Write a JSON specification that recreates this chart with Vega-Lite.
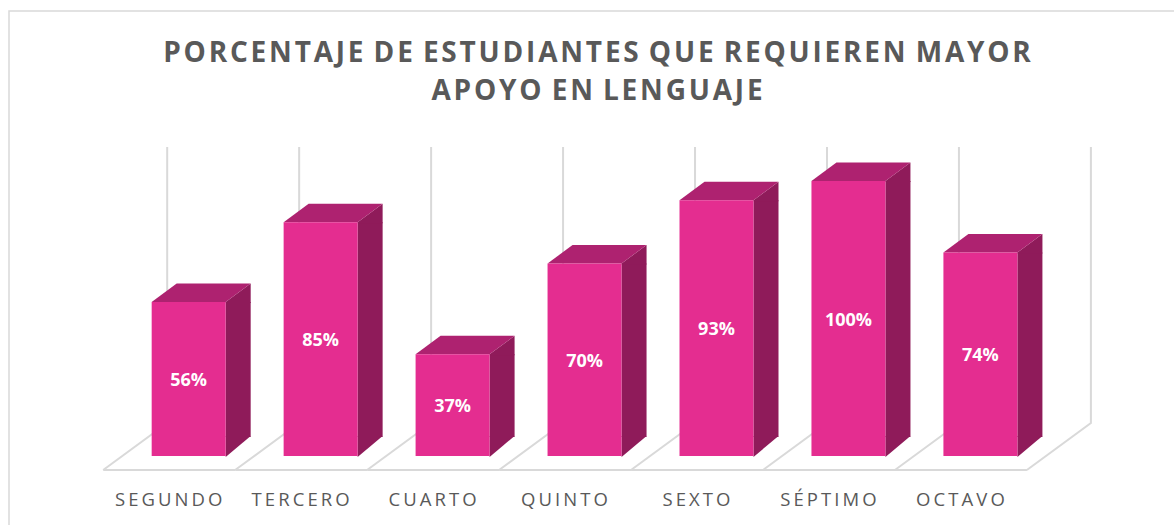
{
"$schema":"https://vega.github.io/schema/vega-lite/v6.json",
"autosize":{"type":"none"},
"padding":{"left":9,"top":11,"right":0,"bottom":0},
"width":1170,"height":520,
"background":"white",
"view":{"stroke":"#d9d9d9","strokeWidth":1.5,"fill":"white"},
"title":{"text":["P\u200aO\u200aR\u200aC\u200aE\u200aN\u200aT\u200aA\u200aJ\u200aE\u200a D\u200aE\u200a E\u200aS\u200aT\u200aU\u200aD\u200aI\u200aA\u200aN\u200aT\u200aE\u200aS\u200a Q\u200aU\u200aE\u200a R\u200aE\u200aQ\u200aU\u200aI\u200aE\u200aR\u200aE\u200aN\u200a M\u200aA\u200aY\u200aO\u200aR","A\u200aP\u200aO\u200aY\u200aO\u200a E\u200aN\u200a L\u200aE\u200aN\u200aG\u200aU\u200aA\u200aJ\u200aE"],"font":"Open Sans","fontSize":28,"fontWeight":"bold","color":"#595959","lineHeight":38,"anchor":"middle","dx":3,"offset":-95},
"data":{"values":[
{"grado":"SEGUNDO","pct":0.56},
{"grado":"TERCERO","pct":0.85},
{"grado":"CUARTO","pct":0.37},
{"grado":"QUINTO","pct":0.70},
{"grado":"SEXTO","pct":0.93},
{"grado":"SÉPTIMO","pct":1.00},
{"grado":"OCTAVO","pct":0.74}
]},
"encoding":{
"x":{"field":"grado","type":"nominal","sort":null,"title":null,
"scale":{"type":"band","range":[113.7,1037.4],"paddingInner":0,"paddingOuter":0},
"axis":{"orient":"bottom","offset":-75,"domain":false,"ticks":false,"labelAngle":0,"labelFont":"Open Sans","labelFontSize":18.5,"labelColor":"#595959","labelPadding":34,"labelOffset":-20,"labelExpr":"join(split(datum.label,''),'\u2009')"}}
},
"layer":[
{"mark":{"type":"point","shape":"M-19.5,14L112.5,14M-19.5,14L44.5,-33L44.5,-309","size":4,"filled":false,"stroke":"#d9d9d9","strokeWidth":2,"opacity":1},
 "encoding":{"x":{"field":"grado","type":"nominal","sort":null,"bandPosition":0},
 "y":{"datum":0,"type":"quantitative","scale":{"domain":[0,1],"range":[445,170]},"axis":null}}},
{"transform":[{"filter":"datum.grado==='OCTAVO'"}],
 "mark":{"type":"point","shape":"M-19.5,14L44.5,-33L44.5,-309","size":4,"filled":false,"stroke":"#d9d9d9","strokeWidth":2,"opacity":1},
 "encoding":{"x":{"field":"grado","type":"nominal","sort":null,"bandPosition":1},
 "y":{"datum":0,"type":"quantitative","scale":{"domain":[0,1],"range":[445,170]},"axis":null}}},
{"mark":{"type":"bar","width":25,"xOffset":49.5,"y2Offset":-19,"color":"#8f1b5a"},
 "encoding":{"y":{"field":"pct","type":"quantitative","scale":{"domain":[0,1],"range":[445,170]},"axis":null},"y2":{"datum":0}}},
{"mark":{"type":"point","shape":"M37,1L37,-20L62,-20Z","size":4,"filled":true,"color":"#8f1b5a","opacity":1},
 "encoding":{"y":{"datum":0,"type":"quantitative","scale":{"domain":[0,1],"range":[445,170]},"axis":null}}},
{"mark":{"type":"point","shape":"M37,1L37,0L62,-18.5L62,1Z","size":4,"filled":true,"color":"#8f1b5a","opacity":1},
 "encoding":{"y":{"field":"pct","type":"quantitative","scale":{"domain":[0,1],"range":[445,170]},"axis":null}}},
{"mark":{"type":"point","shape":"M-37,0L-12,-18.5L62,-18.5L37,0Z","size":4,"filled":true,"color":"#ae2270","opacity":1},
 "encoding":{"y":{"field":"pct","type":"quantitative","scale":{"domain":[0,1],"range":[445,170]},"axis":null}}},
{"mark":{"type":"bar","width":74,"color":"#e42d90"},
 "encoding":{"y":{"field":"pct","type":"quantitative","scale":{"domain":[0,1],"range":[445,170]},"axis":null}}},
{"mark":{"type":"text","font":"Open Sans","fontWeight":"bold","fontSize":18,"color":"white","yOffset":2},
 "encoding":{"y":{"field":"pct","type":"quantitative","scale":{"domain":[0,2],"range":[445,170]},"axis":null},
 "text":{"field":"pct","type":"quantitative","format":".0%"}}}
],
"resolve":{"scale":{"y":"independent"}}
}
